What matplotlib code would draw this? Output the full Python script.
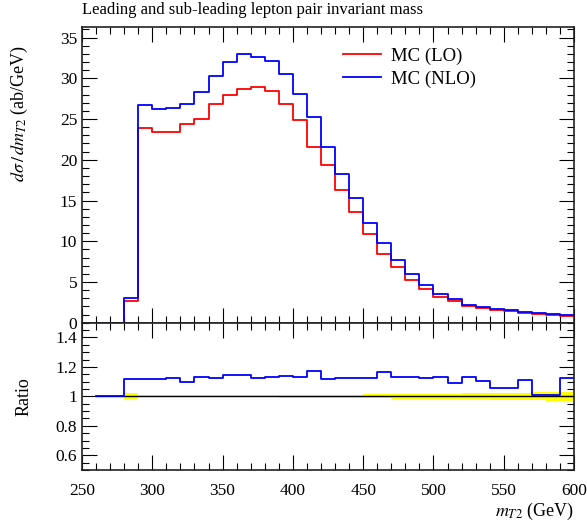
import numpy as np
import matplotlib
matplotlib.use("Agg")
import matplotlib.pyplot as plt
from matplotlib.ticker import MultipleLocator, FormatStrFormatter

plt.rcParams['font.family'] = ['Liberation Serif', 'DejaVu Serif']
plt.rcParams['mathtext.fontset'] = 'stix'

# bin edges (GeV)
edges = np.arange(260, 601, 10)

lo = [0, 0, 2.66, 23.9, 23.44, 23.36, 24.43, 24.96, 26.84, 27.9, 28.7, 28.9,
      28.4, 26.8, 24.9, 21.6, 19.3, 16.3, 13.6, 10.9, 8.4, 6.84, 5.29, 4.18,
      3.2, 2.62, 2.05, 1.8, 1.56, 1.39, 1.23, 1.1, 0.98, 0.86]
nlo = [0, 0, 3.03, 26.7, 26.27, 26.4, 26.9, 28.3, 30.25, 32.0, 33.0, 32.6,
       32.1, 30.5, 28.07, 25.3, 21.6, 18.3, 15.3, 12.3, 9.8, 7.75, 5.98, 4.63,
       3.52, 2.87, 2.17, 1.93, 1.68, 1.52, 1.31, 1.15, 1.02, 0.98]
ratio = [1.0, 1.0, 1.12, 1.116, 1.12, 1.127, 1.098, 1.133, 1.122, 1.147, 1.144,
         1.127, 1.131, 1.138, 1.129, 1.171, 1.12, 1.124, 1.124, 1.122, 1.162,
         1.133, 1.131, 1.124, 1.133, 1.089, 1.131, 1.104, 1.058, 1.06, 1.113,
         1.009, 1.007, 1.122]
band = [0, 0, 0.02, 0.006, 0.006, 0.006, 0.006, 0.006, 0.006, 0.006, 0.006,
        0.007, 0.007, 0.008, 0.008, 0.009, 0.01, 0.011, 0.012, 0.013, 0.014,
        0.015, 0.016, 0.017, 0.018, 0.019, 0.02, 0.021, 0.022, 0.024, 0.025,
        0.027, 0.029, 0.032]

title = "Leading and sub-leading lepton pair invariant mass"

fig = plt.figure(figsize=(5.87, 5.22), dpi=100)
ax1 = fig.add_axes([0.1397, 0.3818, 0.8382, 0.5665])
ax2 = fig.add_axes([0.1397, 0.0996, 0.8382, 0.2822], sharex=ax1)

def stepvals(v):
    return np.append(v, v[-1])

ax1.step(edges, stepvals(lo), where='post', color='#ff0000', lw=1.3, label='MC (LO)')
ax1.step(edges, stepvals(nlo), where='post', color='#0000ff', lw=1.3, label='MC (NLO)')
ax1.set_xlim(250, 600)
ax1.set_ylim(0, 36.3)
ax1.yaxis.set_major_locator(MultipleLocator(5))
ax1.yaxis.set_minor_locator(MultipleLocator(1))
ax1.xaxis.set_major_locator(MultipleLocator(50))
ax1.xaxis.set_minor_locator(MultipleLocator(10))
ax1.tick_params(labelbottom=False)
ax1.set_ylabel(r'$d\sigma\,/\,dm_{T2}$ (ab/GeV)', fontsize=13, loc='top')
ax1.set_title(title, fontsize=12, loc='left', pad=9)
leg = ax1.legend(loc='upper left', bbox_to_anchor=(0.5305, 0.93), frameon=False,
                 borderaxespad=0, borderpad=0, handlelength=2.0,
                 handletextpad=0.55, labelspacing=0.3, fontsize=13.5)

band_arr = np.array(band)
ax2.fill_between(edges, stepvals(1 - band_arr), stepvals(1 + band_arr), step='post',
                 color='#ffff00', lw=0)
ax2.step(edges, stepvals(np.ones(len(ratio))), where='post', color='black', lw=1.0)
ax2.step(edges, stepvals(ratio), where='post', color='#0000ff', lw=1.3)
ax2.set_ylim(0.5, 1.5)
ax2.yaxis.set_major_locator(MultipleLocator(0.2))
ax2.yaxis.set_minor_locator(MultipleLocator(0.05))
ax2.yaxis.set_major_formatter(FormatStrFormatter('%g'))
ax2.set_ylabel('Ratio', fontsize=13)
ax2.set_xlabel(r'$m_{T2}$ (GeV)', fontsize=13, loc='right', labelpad=2)

for ax in (ax1, ax2):
    ax.tick_params(which='both', direction='in', top=True, right=True, labelsize=12.5)
    ax.tick_params(which='major', length=11, width=0.8)
    ax.tick_params(which='minor', length=5, width=0.8)
    for s in ax.spines.values():
        s.set_linewidth(1.2)
        s.set_color('#222222')
ax2.tick_params(axis='x', which='major', pad=9)

ax1.yaxis.set_label_coords(-0.105, 0.94)
ax2.yaxis.set_label_coords(-0.1, 0.5)

fig.savefig('out.png', dpi=100)
